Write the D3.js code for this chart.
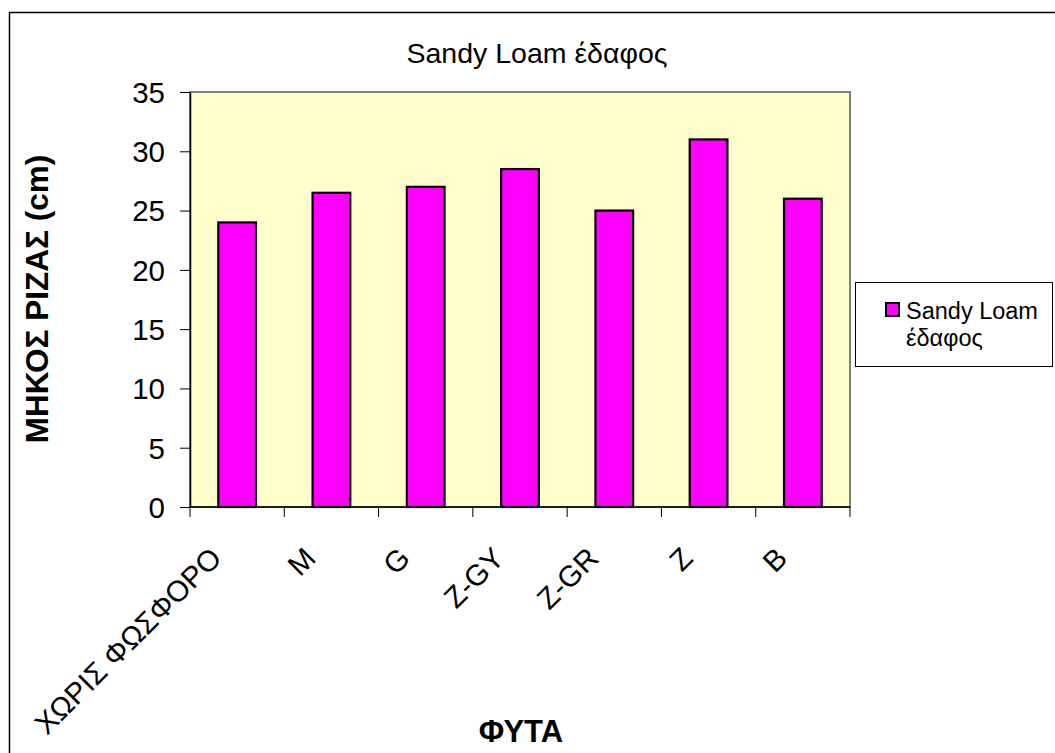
<!DOCTYPE html>
<html>
<head>
<meta charset="utf-8">
<script src="https://cdn.jsdelivr.net/npm/d3@7"></script>
<style>
  html, body { margin: 0; padding: 0; background: #fff; }
  svg { display: block; font-family: Arial, "Liberation Sans", sans-serif; }
</style>
</head>
<body>
<svg id="chart" width="1055" height="753"></svg>
<script>
const categories = ["ΧΩΡΙΣ ΦΩΣΦΟΡΟ", "M", "G", "Z-GY", "Z-GR", "Z", "B"];
const values = [24, 26.5, 27, 28.5, 25, 31, 26];
const yTicks = [0, 5, 10, 15, 20, 25, 30, 35];
const seriesName = "Sandy Loam έδαφος";
const legendLines = ["Sandy Loam", "έδαφος"];
const chartTitle = "Sandy Loam έδαφος";
const yTitle = "ΜΗΚΟΣ ΡΙΖΑΣ (cm)";
const xTitle = "ΦΥΤΑ";

const svg = d3.select("#chart");
const plot = { left: 190, top: 92, right: 850, bottom: 507 };

// outer chart border
svg.append("rect")
  .attr("x", 9.5).attr("y", 12.5)
  .attr("width", 1070).attr("height", 780)
  .attr("fill", "#fff").attr("stroke", "#000").attr("stroke-width", 1.5);

const x = d3.scaleBand().domain(categories)
  .range([plot.left, plot.right]).paddingInner(0.6).paddingOuter(0.3);
const xEdges = d3.scaleLinear().domain([0, categories.length]).range([plot.left, plot.right]);
const y = d3.scaleLinear().domain([0, 35]).range([plot.bottom, plot.top]);

// plot area
svg.append("rect")
  .attr("x", plot.left).attr("y", plot.top)
  .attr("width", plot.right - plot.left).attr("height", plot.bottom - plot.top)
  .attr("fill", "#FFFFCC").attr("stroke", "#808080").attr("stroke-width", 2);

// bars
svg.append("g").selectAll("rect").data(values).join("rect")
  .attr("x", (d, i) => x(categories[i]))
  .attr("y", d => y(d))
  .attr("width", x.bandwidth())
  .attr("height", d => y(0) - y(d))
  .attr("fill", "#FF00FF").attr("stroke", "#000").attr("stroke-width", 2.2);

// y axis
const yAxis = svg.append("g").attr("transform", `translate(${plot.left},0)`)
  .call(d3.axisLeft(y).tickValues(yTicks).tickSize(10).tickPadding(15).tickSizeOuter(0));
yAxis.select(".domain").attr("stroke", "#000").attr("stroke-width", 1.5);
yAxis.selectAll(".tick line").attr("stroke", "#000");
yAxis.selectAll(".tick text").attr("font-size", 29.5).attr("fill", "#000")
  .attr("font-family", "Arial, 'Liberation Sans', sans-serif").attr("dy", "0.35em");

// x axis line and ticks at category edges
const xg = svg.append("g");
xg.append("line").attr("x1", plot.left).attr("x2", plot.right)
  .attr("y1", plot.bottom).attr("y2", plot.bottom)
  .attr("stroke", "#000").attr("stroke-width", 1.5);
xg.selectAll("line.tk").data(d3.range(categories.length + 1)).join("line")
  .attr("class", "tk")
  .attr("x1", d => xEdges(d)).attr("x2", d => xEdges(d))
  .attr("y1", plot.bottom).attr("y2", plot.bottom + 10)
  .attr("stroke", "#000").attr("stroke-width", 1);

// x labels rotated
xg.selectAll("text").data(categories).join("text")
  .attr("transform", d => `translate(${x(d) + x.bandwidth() / 2 - 14},${plot.bottom + 53}) rotate(-45)`)
  .attr("text-anchor", "end")
  .attr("font-size", 29.5).attr("fill", "#000")
  .text(d => d);

// title
svg.append("text").attr("x", 537).attr("y", 63).attr("text-anchor", "middle")
  .attr("font-size", 28.5).attr("fill", "#000").text(chartTitle);

// y title
svg.append("text")
  .attr("transform", `translate(48,299) rotate(-90)`)
  .attr("text-anchor", "middle").attr("font-weight", "bold")
  .attr("font-size", 31.5).attr("fill", "#000").text(yTitle);

// x title
svg.append("text").attr("x", 521).attr("y", 742).attr("text-anchor", "middle")
  .attr("font-weight", "bold").attr("font-size", 31).attr("fill", "#000").text(xTitle);

// legend
const lg = svg.append("g");
lg.append("rect").attr("x", 855.5).attr("y", 282.5).attr("width", 197).attr("height", 84)
  .attr("fill", "#fff").attr("stroke", "#000").attr("stroke-width", 1);
lg.append("rect").attr("x", 886).attr("y", 303).attr("width", 13).attr("height", 13)
  .attr("fill", "#FF00FF").attr("stroke", "#000").attr("stroke-width", 2);
lg.selectAll("text.l").data(legendLines).join("text").attr("class", "l")
  .attr("x", 906).attr("y", (d, i) => 319 + i * 27)
  .attr("font-size", 23.5).attr("fill", "#000").text(d => d);
</script>
</body>
</html>
